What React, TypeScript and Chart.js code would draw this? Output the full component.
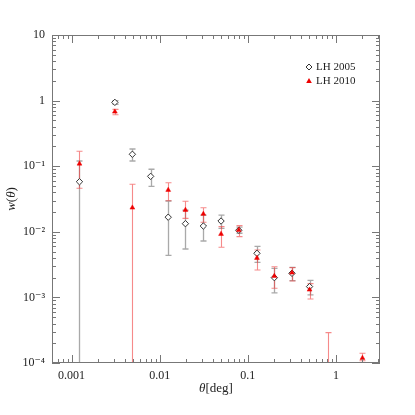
import React, { useEffect, useRef } from "react";
import { Chart, registerables } from "chart.js";
Chart.register(...registerables);

// LH 2005 (open diamonds)
const theta2005 = [0.00123, 0.0031, 0.0049, 0.0079, 0.0125, 0.0196, 0.0313, 0.0497, 0.079, 0.127, 0.2, 0.317, 0.502];
const w2005 = [0.058, 0.94, 0.152, 0.07, 0.0167, 0.0133, 0.01225, 0.0146, 0.01055, 0.0047, 0.002, 0.00233, 0.00146];
const hi2005 = [0.12, 1.0, 0.183, 0.0898, 0.0295, 0.0213, 0.0179, 0.0179, 0.0118, 0.006, 0.00277, 0.00287, 0.00182];
const lo2005 = [0, 0.88, 0.12, 0.0494, 0.00438, 0.00547, 0.00724, 0.0113, 0.0095, 0.00343, 0.00117, 0.0018, 0.00109];

// LH 2010 (filled red triangles)
const theta2010 = [0.00123, 0.0031, 0.0049, 0.0125, 0.0196, 0.0313, 0.0497, 0.079, 0.127, 0.2, 0.317, 0.502, 0.807, 2.0];
const w2010 = [0.109, 0.677, 0.0233, 0.0434, 0.0215, 0.0187, 0.00925, 0.01064, 0.00399, 0.00212, 0.00238, 0.00131, 0.00003, 0.000119];
const hi2010 = [0.169, 0.736, 0.053, 0.056, 0.0292, 0.0233, 0.012, 0.0124, 0.00528, 0.00294, 0.00284, 0.00162, 0.00029, 0.000141];
const lo2010 = [0.046, 0.61, 0, 0.0298, 0.016, 0.014, 0.0058, 0.00843, 0.00262, 0.00138, 0.00178, 0.000946, 0, 0.000108];

const xMin = Math.pow(10, -3.2);
const xMax = Math.pow(10, 0.5);
const yMin = 1e-4;
const yMax = 10;

const seriesNames = ["LH 2005", "LH 2010"];
const errColors = ["rgba(140,140,140,0.75)", "rgba(240,60,60,0.6)"];
const AXIS = "#777";
const SERIF = "'Liberation Serif', 'DejaVu Serif', serif";

const sup: Record<string, string> = { "-": "\u207B", "0": "\u2070", "1": "\u00B9", "2": "\u00B2", "3": "\u00B3", "4": "\u2074", "5": "\u2075", "6": "\u2076", "7": "\u2077", "8": "\u2078", "9": "\u2079" };

function isDecade(v: number) {
  const l = Math.log10(v);
  return Math.abs(l - Math.round(l)) < 1e-9;
}

const errorBarPlugin = {
  id: "errbars",
  beforeDatasetsDraw(chart: any) {
    const ctx = chart.ctx;
    const xs = chart.scales.x;
    const ys = chart.scales.y;
    const area = chart.chartArea;
    const sets = [
      { t: theta2005, hi: hi2005, lo: lo2005, c: errColors[0], lw: 1.3 },
      { t: theta2010, hi: hi2010, lo: lo2010, c: errColors[1], lw: 1.1 },
    ];
    ctx.save();
    ctx.beginPath();
    ctx.rect(area.left, area.top, area.right - area.left, area.bottom - area.top);
    ctx.clip();
    for (const s of sets) {
      ctx.strokeStyle = s.c;
      ctx.lineWidth = s.lw;
      for (let i = 0; i < s.t.length; i++) {
        const x = Math.round(xs.getPixelForValue(s.t[i])) + 0.5;
        const yh = ys.getPixelForValue(s.hi[i]);
        const yl = s.lo[i] > 0 ? ys.getPixelForValue(s.lo[i]) : area.bottom + 5;
        ctx.beginPath();
        ctx.moveTo(x, yh);
        ctx.lineTo(x, yl);
        ctx.moveTo(x - 3, yh);
        ctx.lineTo(x + 3, yh);
        if (s.lo[i] > 0) {
          ctx.moveTo(x - 3, yl);
          ctx.lineTo(x + 3, yl);
        }
        ctx.stroke();
      }
    }
    ctx.restore();
  },
};

const framePlugin = {
  id: "frame",
  afterDraw(chart: any) {
    const ctx = chart.ctx;
    const xs = chart.scales.x;
    const ys = chart.scales.y;
    const a = chart.chartArea;
    ctx.save();
    ctx.strokeStyle = AXIS;
    ctx.lineWidth = 1;
    ctx.strokeRect(Math.round(a.left) + 0.5, Math.round(a.top) + 0.5, Math.round(a.right - a.left) - 1, Math.round(a.bottom - a.top) - 1);
    ctx.beginPath();
    for (let e = -4; e <= 1; e++) {
      for (let m = 1; m <= 9; m++) {
        const v = m * Math.pow(10, e);
        if (v < xs.min * 0.999 || v > xs.max * 1.001) continue;
        const px = Math.round(xs.getPixelForValue(v)) + 0.5;
        const len = m === 1 ? 8 : 4;
        ctx.moveTo(px, a.bottom);
        ctx.lineTo(px, a.bottom - len);
        ctx.moveTo(px, a.top);
        ctx.lineTo(px, a.top + len);
      }
    }
    for (let e = -5; e <= 1; e++) {
      for (let m = 1; m <= 9; m++) {
        const v = m * Math.pow(10, e);
        if (v < ys.min * 0.999 || v > ys.max * 1.001) continue;
        const py = Math.round(ys.getPixelForValue(v)) + 0.5;
        const len = m === 1 ? 8 : 4;
        ctx.moveTo(a.left, py);
        ctx.lineTo(a.left + len, py);
        ctx.moveTo(a.right, py);
        ctx.lineTo(a.right - len, py);
      }
    }
    ctx.stroke();

    ctx.fillStyle = "#222";
    ctx.textBaseline = "middle";
    const it = "italic 13px " + SERIF;
    const up = "13px " + SERIF;
    const drawParts = (parts: [string, string][], cx: number, cy: number) => {
      let total = 0;
      for (const [t, f] of parts) {
        ctx.font = f;
        total += ctx.measureText(t).width;
      }
      let x = cx - total / 2;
      ctx.textAlign = "left";
      for (const [t, f] of parts) {
        ctx.font = f;
        ctx.fillText(t, x, cy);
        x += ctx.measureText(t).width;
      }
    };
    drawParts([["\u03B8", it], ["[deg]", up]], (a.left + a.right) / 2, 389);
    ctx.save();
    ctx.translate(12, (a.top + a.bottom) / 2);
    ctx.rotate(-Math.PI / 2);
    drawParts([["w", it], ["(", up], ["\u03B8", it], [")", up]], 0, 0);
    ctx.restore();

    const lx = 309;
    const ly = [67, 81];
    ctx.font = "11px " + SERIF;
    ctx.textAlign = "left";
    ctx.fillStyle = "#222";
    for (let i = 0; i < 2; i++) {
      ctx.fillText(seriesNames[i], lx + 7, ly[i] + 0.5);
    }
    ctx.strokeStyle = "#333";
    ctx.lineWidth = 1;
    ctx.fillStyle = "#fff";
    ctx.beginPath();
    ctx.moveTo(lx, ly[0] - 3);
    ctx.lineTo(lx + 3, ly[0]);
    ctx.lineTo(lx, ly[0] + 3);
    ctx.lineTo(lx - 3, ly[0]);
    ctx.closePath();
    ctx.fill();
    ctx.stroke();
    ctx.fillStyle = "#e00";
    ctx.beginPath();
    ctx.moveTo(lx, ly[1] - 3);
    ctx.lineTo(lx + 2.8, ly[1] + 2);
    ctx.lineTo(lx - 2.8, ly[1] + 2);
    ctx.closePath();
    ctx.fill();
    ctx.restore();
  },
};

export default function App() {
  const ref = useRef<HTMLCanvasElement | null>(null);
  useEffect(() => {
    if (!ref.current) return;
    const chart = new Chart(ref.current, {
      type: "scatter",
      data: {
        datasets: [
          {
            label: seriesNames[0],
            data: theta2005.map((t, i) => ({ x: t, y: w2005[i] })),
            pointStyle: "rectRot",
            pointRadius: 3.2,
            borderColor: "#333",
            backgroundColor: "#fff",
            pointBorderWidth: 1,
            order: 2,
          },
          {
            label: seriesNames[1],
            data: theta2010.map((t, i) => ({ x: t, y: w2010[i] })),
            pointStyle: "triangle",
            pointRadius: 2.8,
            borderColor: "#e00",
            backgroundColor: "#e00",
            pointBorderWidth: 0.5,
            order: 1,
          },
        ],
      },
      options: {
        animation: false,
        responsive: false,
        events: [],
        layout: { padding: { top: 35, right: 35, left: 0, bottom: 0 } },
        plugins: { legend: { display: false }, tooltip: { enabled: false } },
        scales: {
          x: {
            type: "logarithmic",
            min: xMin,
            max: xMax,
            grid: { display: false, drawTicks: false },
            border: { display: false },
            afterFit: (s: any) => {
              s.height = 52;
            },
            ticks: {
              autoSkip: false,
              maxRotation: 0,
              padding: 6,
              color: "#222",
              font: { family: SERIF, size: 12 },
              callback: (v: any) => {
                const n = Number(v);
                return isDecade(n) ? String(Number(n.toPrecision(1))) : "";
              },
            },
          },
          y: {
            type: "logarithmic",
            min: yMin,
            max: yMax,
            grid: { display: false, drawTicks: false },
            border: { display: false },
            afterFit: (s: any) => {
              s.width = 52;
            },
            ticks: {
              autoSkip: false,
              padding: 7,
              color: "#222",
              font: { family: SERIF, size: 12 },
              callback: (v: any) => {
                const n = Number(v);
                if (!isDecade(n)) return "";
                const e = Math.round(Math.log10(n));
                if (e === 0) return "1";
                if (e === 1) return "10";
                return "10" + String(e).split("").map((c) => sup[c]).join("");
              },
            },
          },
        },
      },
      plugins: [errorBarPlugin, framePlugin],
    } as any);
    return () => chart.destroy();
  }, []);
  return (
    <div style={{ position: "fixed", left: 0, top: 0, width: 415, height: 415, background: "#fff" }}>
      <canvas ref={ref} width={415} height={415} />
    </div>
  );
}
